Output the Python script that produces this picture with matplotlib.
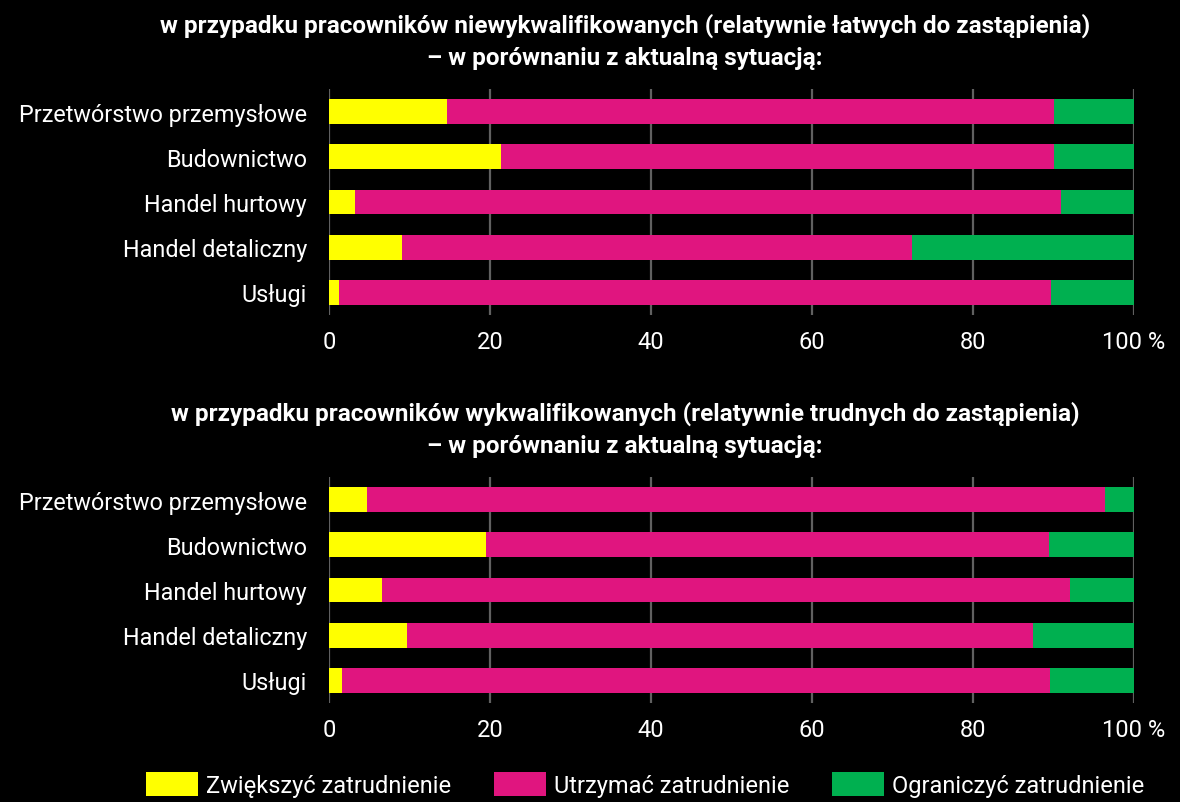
import matplotlib
matplotlib.use("Agg")
import matplotlib.pyplot as plt
import numpy as np

# Data (percent)
categories = ["Przetwórstwo przemysłowe", "Budownictwo", "Handel hurtowy",
              "Handel detaliczny", "Usługi"]

top_increase = [14.7, 21.4, 3.2, 9.1, 1.2]
top_keep = [75.4, 68.7, 87.7, 63.3, 88.5]
top_reduce = [9.9, 9.9, 9.1, 27.6, 10.3]

bot_increase = [4.7, 19.5, 6.6, 9.7, 1.6]
bot_keep = [91.7, 70.0, 85.4, 77.7, 88.0]
bot_reduce = [3.6, 10.5, 8.0, 12.6, 10.4]

series_names = ["Zwiększyć zatrudnienie", "Utrzymać zatrudnienie", "Ograniczyć zatrudnienie"]
colors = ["#FFFF00", "#E0157F", "#00B050"]

xticks = [0, 20, 40, 60, 80, 100]
xticklabels = ["0", "20", "40", "60", "80", "100 %"]

title_top = ("w przypadku pracowników niewykwalifikowanych (relatywnie łatwych do zastąpienia)\n"
             "– w porównaniu z aktualną sytuacją:")
title_bot = ("w przypadku pracowników wykwalifikowanych (relatywnie trudnych do zastąpienia)\n"
             "– w porównaniu z aktualną sytuacją:")

plt.rcParams['font.family'] = ['Roboto', 'DejaVu Sans']

W, H = 1180, 803
fig = plt.figure(figsize=(W / 100, H / 100), dpi=100, facecolor="black")


def make_axes(top_px, bottom_px):
    left, right = 329, 1134
    return fig.add_axes([left / W, 1 - bottom_px / H, (right - left) / W, (bottom_px - top_px) / H])


def draw(ax, inc, keep, red):
    ax.set_facecolor("black")
    y = np.arange(len(categories))
    inc = np.array(inc)
    keep = np.array(keep)
    red = np.array(red)
    ax.barh(y, inc, height=0.55, color=colors[0], label=series_names[0], zorder=3)
    ax.barh(y, keep, left=inc, height=0.55, color=colors[1], label=series_names[1], zorder=3)
    ax.barh(y, red, left=inc + keep, height=0.55, color=colors[2], label=series_names[2], zorder=3)
    ax.set_ylim(4.5, -0.5)
    ax.set_xlim(0, 100)
    ax.set_yticks(y)
    ax.set_yticklabels(categories, color="white", fontsize=16.8)
    ax.set_xticks(xticks)
    ax.set_xticklabels(xticklabels, color="white", fontsize=17)
    ax.tick_params(length=0)
    ax.tick_params(axis="x", pad=11)
    ax.tick_params(axis="y", pad=16)
    for s in ax.spines.values():
        s.set_visible(False)
    ax.grid(axis="x", color="#606060", linewidth=1.6, zorder=0)


ax1 = make_axes(90, 316)
draw(ax1, top_increase, top_keep, top_reduce)
ax2 = make_axes(478, 704)
draw(ax2, bot_increase, bot_keep, bot_reduce)

fig.text(625 / W, 1 - 42 / H, title_top, ha="center", va="center", color="white",
         fontsize=17.5, fontweight="bold", linespacing=1.5)
fig.text(625 / W, 1 - 430 / H, title_bot, ha="center", va="center", color="white",
         fontsize=17.5, fontweight="bold", linespacing=1.5)

handles, labels = ax1.get_legend_handles_labels()
leg = fig.legend(handles, labels, loc="lower center", bbox_to_anchor=(645 / W, -0.02), ncol=3,
                 frameon=False, fontsize=17, labelcolor="white", handlelength=2.2,
                 handleheight=1.2, handletextpad=0.34, columnspacing=1.8)

fig.savefig("out.png", dpi=100, facecolor="black")
